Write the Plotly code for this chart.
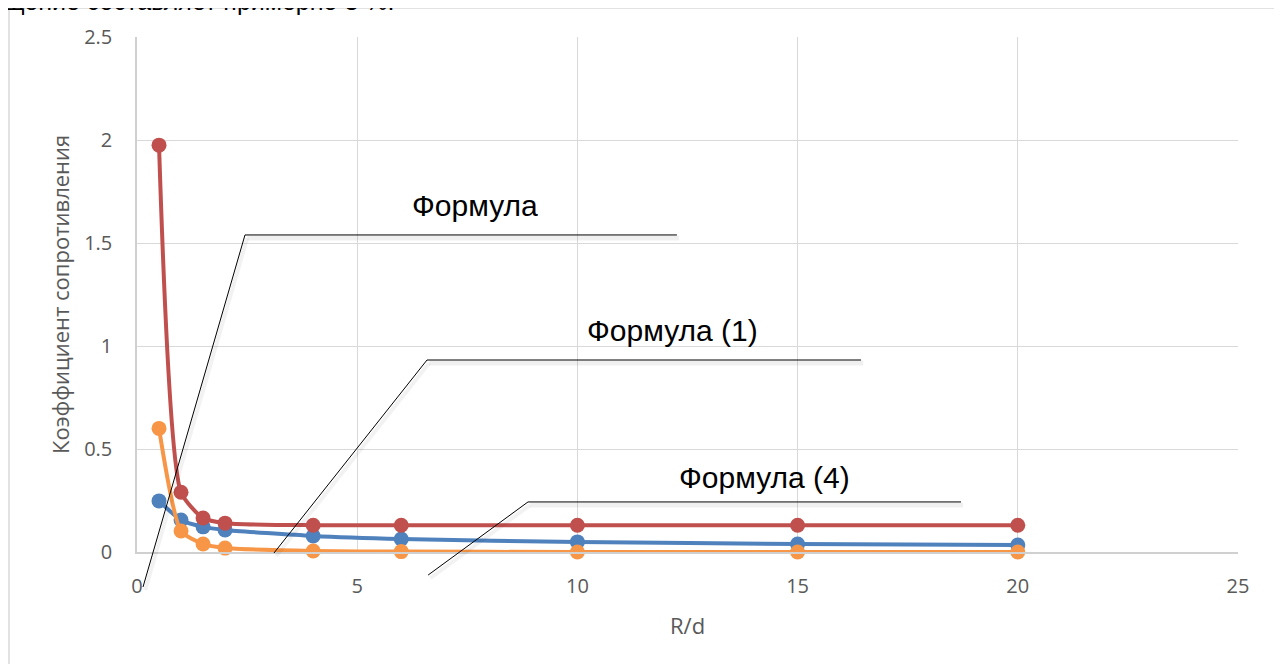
import plotly.graph_objects as go

# ---- data ----
rd = [0.5, 1, 1.5, 2, 4, 6, 10, 15, 20]
blue_vals = [0.248, 0.155, 0.122, 0.107, 0.078, 0.063, 0.049, 0.039, 0.034]
red_vals = [1.975, 0.29, 0.165, 0.14, 0.13, 0.13, 0.13, 0.13, 0.13]
orange_vals = [0.60, 0.102, 0.039, 0.019, 0.005, 0.002, 0.0, 0.0, 0.0]

series_names = ["Формула (1)", "Формула", "Формула (4)"]
series_colors = ["#4f81bd", "#c0504d", "#f79646"]

x_ticks = [0, 5, 10, 15, 20, 25]
y_ticks = [0, 0.5, 1, 1.5, 2, 2.5]
x_range = [0, 25]
y_range = [0, 2.5]

# callout labels (text, text position, leader polyline in data units)
callout_texts = ["Формула", "Формула (1)", "Формула (4)"]
callout_text_pos = [(7.68, 1.68), (12.17, 1.073), (14.24, 0.364)]
callout_paths = [
    [(0.136, -0.170), (2.452, 1.539), (12.26, 1.539)],
    [(3.11, -0.005), (6.585, 0.932), (16.44, 0.932)],
    [(6.61, -0.112), (8.878, 0.243), (18.71, 0.243)],
]

# page has an 8px body margin; layout in figure pixels
OFF = 8
W, H = 1282, 664
L, R_, T, B = 137 - OFF, W - (1238 - OFF), 37 - OFF, H - (552 - OFF)
PW = W - L - R_
PH = H - T - B

fig = go.Figure()
for vals, name, col in zip([blue_vals, red_vals, orange_vals], series_names, series_colors):
    fig.add_trace(go.Scatter(
        x=rd, y=vals, name=name, mode="lines+markers",
        line=dict(color=col, width=4, shape="spline", smoothing=0.6),
        marker=dict(color=col, size=15),
        cliponaxis=False,
        showlegend=False,
    ))

def px(x):
    return (x - x_range[0]) / (x_range[1] - x_range[0])

def py(y):
    return (y - y_range[0]) / (y_range[1] - y_range[0])

def sx(p):  # screen pixel -> paper x
    return (p - OFF - L) / PW

def sy(p):  # screen pixel -> paper y
    return 1 - (p - OFF - T) / PH

shapes = []
# outer chart border
shapes.append(dict(type="rect", xref="paper", yref="paper",
                   x0=sx(9), x1=sx(1280), y0=sy(680), y1=sy(8),
                   line=dict(color="#d9d9d9", width=1.5), fillcolor="rgba(0,0,0,0)",
                   layer="below"))

for path in callout_paths:
    (xa, ya), (xb, yb), (xc, yc) = path
    # soft shadow
    shapes.append(dict(type="line", xref="paper", yref="paper",
                       x0=px(xb) + 0.002, x1=px(xc) + 0.002, y0=py(yb) - 0.006, y1=py(yc) - 0.006,
                       line=dict(color="rgba(0,0,0,0.06)", width=5)))
    shapes.append(dict(type="line", xref="paper", yref="paper",
                       x0=px(xa) + 0.002, x1=px(xb) + 0.002, y0=py(ya) - 0.006, y1=py(yb) - 0.006,
                       line=dict(color="rgba(0,0,0,0.05)", width=4)))
    for (x0, y0), (x1, y1) in zip(path[:-1], path[1:]):
        shapes.append(dict(type="line", xref="paper", yref="paper",
                           x0=px(x0), x1=px(x1), y0=py(y0), y1=py(y1),
                           line=dict(color="black", width=1)))

annotations = []
for txt, (tx, ty) in zip(callout_texts, callout_text_pos):
    annotations.append(dict(x=px(tx), y=py(ty), xref="paper", yref="paper",
                            text=txt, showarrow=False, xanchor="center", yanchor="middle",
                            font=dict(family="Liberation Sans, Arial", size=30, color="black")))

annotations.append(dict(x=sx(687), y=sy(625), xref="paper", yref="paper", text="R/d",
                        showarrow=False, xanchor="center", yanchor="middle",
                        font=dict(family="Open Sans", size=22, color="#595959")))
annotations.append(dict(x=sx(60), y=sy(295), xref="paper", yref="paper",
                        text="Коэффициент сопротивления", textangle=-90,
                        showarrow=False, xanchor="center", yanchor="middle",
                        font=dict(family="Open Sans", size=22, color="#595959")))
# clipped line of document text at top
annotations.append(dict(x=sx(396), y=sy(17), xref="paper", yref="paper",
                        text="щение составляет примерно 3 %.", showarrow=False,
                        xanchor="right", yanchor="bottom",
                        font=dict(family="Liberation Sans, Arial", size=25, color="black")))

fig.update_layout(
    width=W, height=H,
    margin=dict(l=L, r=R_, t=T, b=B),
    paper_bgcolor="white", plot_bgcolor="white",
    shapes=shapes, annotations=annotations,
    xaxis=dict(range=x_range, tickvals=x_ticks, ticktext=[str(v) for v in x_ticks],
               showgrid=True, gridcolor="#d9d9d9", gridwidth=1,
               zeroline=False, showline=True, linecolor="#d0d0d0", linewidth=1.5,
               ticks="", ticklabelstandoff=15,
               tickfont=dict(family="Open Sans", size=20, color="#595959")),
    yaxis=dict(range=y_range, tickvals=y_ticks, ticktext=[str(v) for v in y_ticks],
               showgrid=True, gridcolor="#d9d9d9", gridwidth=1,
               zeroline=False, showline=True, linecolor="#d0d0d0", linewidth=1.5,
               ticks="", ticklabelstandoff=19,
               tickfont=dict(family="Open Sans", size=20, color="#595959")),
)

fig.write_html("out.html")
